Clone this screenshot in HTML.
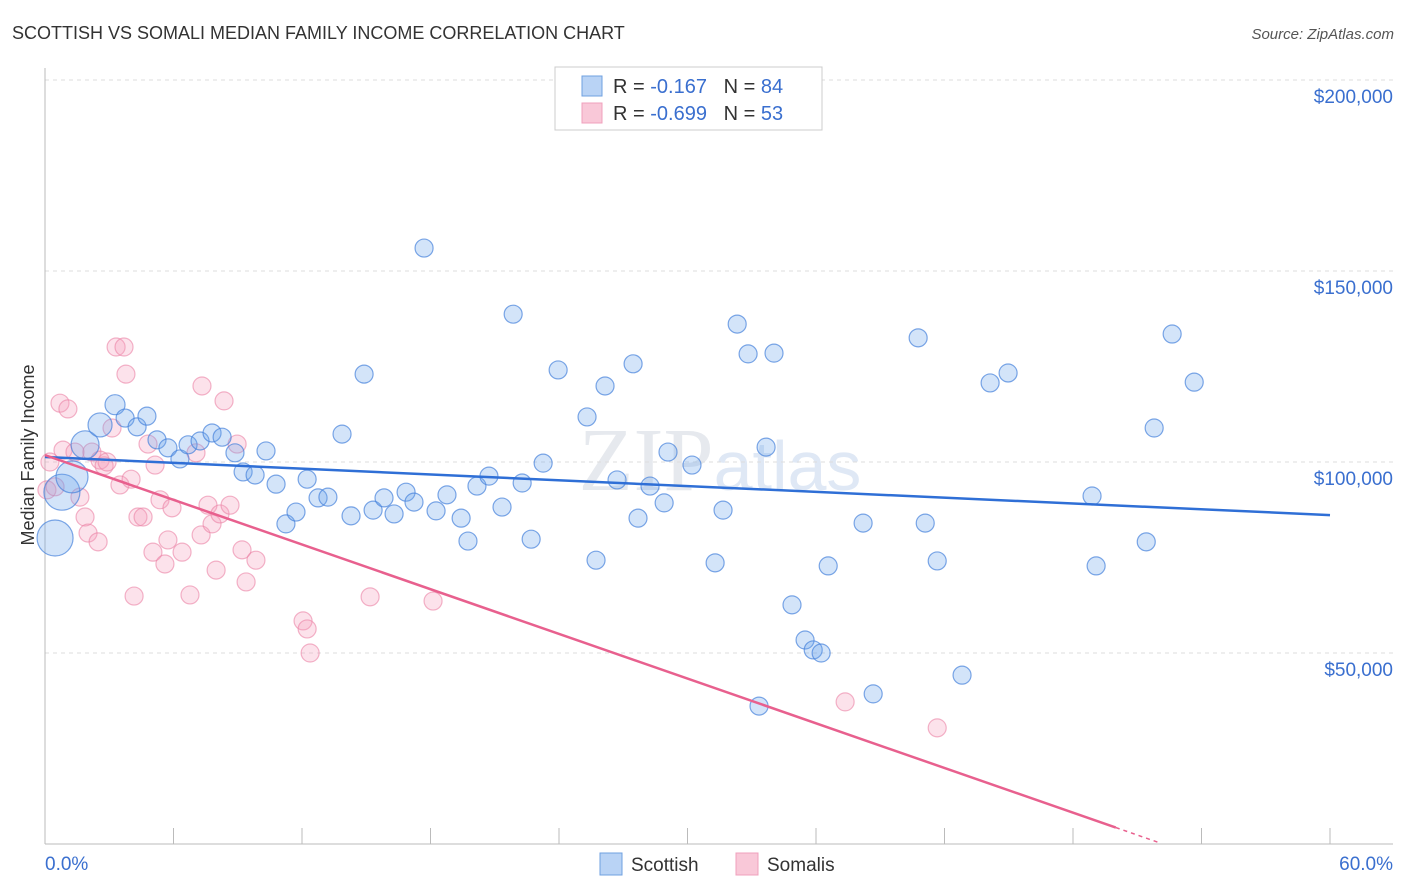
<!DOCTYPE html>
<html><head><meta charset="utf-8"><style>
body{margin:0;background:#fff;font-family:"Liberation Sans",sans-serif;}
svg{display:block}
</style></head><body>
<svg id="chart" width="1406" height="892">
<text x="12" y="39" font-size="18" fill="#333">SCOTTISH VS SOMALI MEDIAN FAMILY INCOME CORRELATION CHART</text>
<text x="1394" y="39" font-size="15" fill="#555" text-anchor="end" font-style="italic">Source: ZipAtlas.com</text>
<text x="720" y="490" font-size="90" fill="#e6e9ee" text-anchor="middle" font-family="Liberation Serif">ZIP<tspan font-family="Liberation Sans" font-size="70" fill="#dfe8f5">atlas</tspan></text>
<g id="grid"></g>
<g id="axes"></g>
<g id="pts"></g>
<g id="trends"></g>
<g>
<rect x="555" y="67" width="267" height="63" fill="#fff" stroke="#ccc"/>
<rect x="582" y="76" width="20" height="20" fill="#b9d3f5" stroke="#6fa0e0"/>
<rect x="582" y="103" width="20" height="20" fill="#f9c8d8" stroke="#f0a0bc"/>
<text x="613" y="93" font-size="20" fill="#333">R = <tspan fill="#3a6fcf">-0.167</tspan>&#160;&#160;&#160;N = <tspan fill="#3a6fcf">84</tspan></text>
<text x="613" y="120" font-size="20" fill="#333">R = <tspan fill="#3a6fcf">-0.699</tspan>&#160;&#160;&#160;N = <tspan fill="#3a6fcf">53</tspan></text>
</g>
<g>
<rect x="600" y="853" width="22" height="22" fill="#b9d3f5" stroke="#6fa0e0"/>
<text x="631" y="871" font-size="19" fill="#333">Scottish</text>
<rect x="736" y="853" width="22" height="22" fill="#f9c8d8" stroke="#f0a0bc"/>
<text x="767" y="871" font-size="19" fill="#333">Somalis</text>
</g>
<text transform="translate(34,455) rotate(-90)" font-size="18" fill="#333" text-anchor="middle">Median Family Income</text>
</svg>
<script>
const yTicks=[50000,100000,150000,200000];
const yTickLabels=["$50,000","$100,000","$150,000","$200,000"];
const xTickLabels=["0.0%","60.0%"];
const scottishX=[0.47,0.79,1.26,1.87,2.57,3.27,3.74,4.30,4.76,5.23,5.74,6.30,6.68,7.24,7.80,8.27,8.87,9.25,9.81,10.32,10.79,11.25,11.72,12.24,12.75,13.21,14.29,13.87,14.90,15.32,15.83,16.30,16.86,17.23,17.70,18.26,18.77,19.43,19.75,20.17,20.73,21.34,21.86,22.28,22.70,23.26,23.96,25.31,25.73,26.15,26.71,27.46,27.69,28.25,28.91,29.09,30.21,31.29,31.66,32.32,32.83,33.34,33.67,34.04,34.88,35.49,35.87,36.24,36.57,38.20,38.67,40.77,41.10,41.66,42.82,44.13,44.97,48.89,49.08,51.42,51.79,52.63,53.66];
const scottishY=[80.1,92.1,96.1,104.5,109.7,115.0,111.5,109.2,112.0,105.8,103.7,100.8,104.5,105.5,107.6,106.5,102.4,97.4,96.6,102.9,94.2,83.8,86.9,95.5,90.6,90.8,85.9,107.3,123.0,87.4,90.6,86.4,92.1,89.5,156.0,87.2,91.4,85.3,79.3,93.7,96.3,88.2,138.7,94.5,79.8,99.7,124.1,111.8,74.3,119.9,95.3,125.7,85.3,93.7,89.3,102.6,99.2,73.6,87.4,136.1,128.3,36.1,103.9,128.5,62.6,53.4,50.8,50.0,72.8,84.0,39.3,132.5,84.0,74.1,44.2,120.7,123.3,91.1,72.8,79.1,108.9,133.5,120.9];
const scottishSize=[18,18,16,14,12,10];
const somaliX=[0.09,0.23,0.47,0.70,0.84,1.07,1.40,1.63,1.87,2.01,2.19,2.48,2.57,2.76,2.90,3.13,3.32,3.50,3.69,3.78,4.02,4.16,4.34,4.58,4.81,5.04,5.14,5.37,5.60,5.74,5.93,6.40,6.77,7.05,7.33,7.29,7.61,7.80,7.99,8.17,8.36,8.64,8.97,9.20,9.39,9.85,12.05,12.24,12.38,15.18,18.12,37.36,41.66];
const somaliY=[92.7,100.0,93.5,115.4,103.1,113.9,102.6,90.8,85.6,81.4,102.6,79.1,100.5,99.0,100.0,108.9,130.1,94.0,130.1,123.0,95.5,64.9,85.6,85.6,104.7,76.4,99.2,90.1,73.3,79.6,88.0,76.4,65.2,102.4,119.9,80.9,88.7,83.8,71.7,86.4,116.0,88.7,104.7,77.0,68.6,74.3,58.4,56.3,50.0,64.7,63.6,37.2,30.4];
const scottishTrend=[101.3,86.1];
const somaliTrend=[101.8,-1.95];
const X=p=>45+p*1285/60, Y=k=>844-k*3.82;
const NS="http://www.w3.org/2000/svg";
function mk(t,a,parent){const e=document.createElementNS(NS,t);for(const k in a)e.setAttribute(k,a[k]);parent.appendChild(e);return e;}
const grid=document.getElementById('grid'),axes=document.getElementById('axes'),pts=document.getElementById('pts'),tr=document.getElementById('trends');
yTicks.forEach((v,i)=>{const y=Y(v/1000);
 const l=mk('line',{x1:45,x2:1393,y1:y,y2:y,stroke:'#ddd','stroke-dasharray':'4,4'},grid);
 
 
 const t=mk('text',{x:1393,y:y+23,'font-size':19,fill:'#3a6fcf','text-anchor':'end'},axes);t.textContent=yTickLabels[i];
 
 
});
mk('line',{x1:45,x2:45,y1:68,y2:844,stroke:'#bbb'},axes);
mk('line',{x1:45,x2:1393,y1:844,y2:844,stroke:'#bbb'},axes);
for(let i=0;i<=10;i++){const x=X(i*6);mk('line',{x1:x,x2:x,y1:828,y2:844,stroke:'#bbb'},axes);}
let t0=mk('text',{x:45,y:870,'font-size':19,fill:'#3a6fcf'},axes);t0.textContent=xTickLabels[0];


let t1=mk('text',{x:1393,y:870,'font-size':19,fill:'#3a6fcf','text-anchor':'end'},axes);t1.textContent=xTickLabels[1];


somaliX.forEach((x,i)=>{const c=mk('circle',{cx:X(x),cy:Y(somaliY[i]),r:9,fill:'rgba(244,160,190,0.3)',stroke:'rgba(235,130,165,0.6)','stroke-width':1.2},pts);
 
 });
scottishX.forEach((x,i)=>{const c=mk('circle',{cx:X(x),cy:Y(scottishY[i]),r:scottishSize[i]||9,fill:'rgba(110,165,235,0.3)',stroke:'rgba(70,130,220,0.7)','stroke-width':1.2},pts);
 
 });
let bl=mk('line',{x1:X(0),y1:Y(scottishTrend[0]),x2:X(60),y2:Y(scottishTrend[1]),stroke:'#2f6fd6','stroke-width':2.5},tr);


const pe=50,pd=52;
let pl=mk('line',{x1:X(0),y1:Y(somaliTrend[0]),x2:X(pe),y2:Y(somaliTrend[0]+somaliTrend[1]*pe),stroke:'#e8608e','stroke-width':2.5},tr);


let pdl=mk('line',{x1:X(pe),y1:Y(somaliTrend[0]+somaliTrend[1]*pe),x2:X(pd),y2:Y(somaliTrend[0]+somaliTrend[1]*pd),stroke:'#e8608e','stroke-width':1.5,'stroke-dasharray':'4,4'},tr);


</script>
</body></html>
